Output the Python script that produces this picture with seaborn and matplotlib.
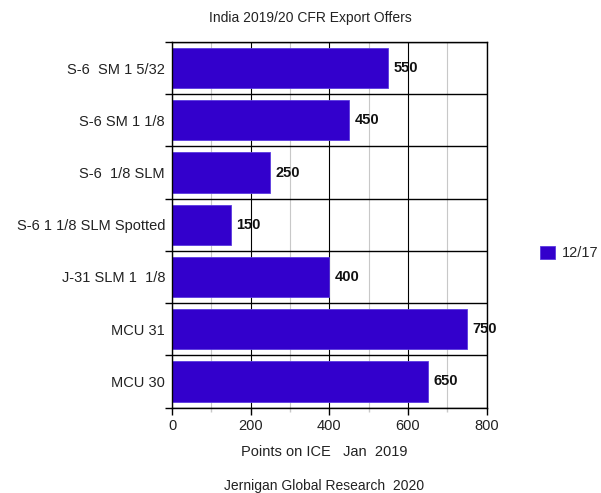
import matplotlib
matplotlib.use("Agg")
import matplotlib.pyplot as plt
import seaborn as sns
import pandas as pd
from matplotlib.ticker import MultipleLocator, FixedLocator
from matplotlib.patches import Patch

categories = ["S-6  SM 1 5/32", "S-6 SM 1 1/8", "S-6  1/8 SLM", "S-6 1 1/8 SLM Spotted",
              "J-31 SLM 1  1/8", "MCU 31", "MCU 30"]
values = [550, 450, 250, 150, 400, 750, 650]
series_name = "12/17"
title = "India 2019/20 CFR Export Offers"
xlabel = "Points on ICE   Jan  2019"
footer = "Jernigan Global Research  2020"

sns.set_theme(style="white")
plt.rcParams['font.family'] = ['Liberation Sans', 'DejaVu Sans']

color = "#3300CC"
df = pd.DataFrame({"cat": categories, "val": values, "series": series_name})

fig = plt.figure(figsize=(6.01, 4.93), dpi=100)
ax = fig.add_axes([0.2862, 0.1734, 0.5233, 0.7414])
sns.barplot(data=df, y="cat", x="val", hue="series", palette=[color], orient="h",
            width=0.77, ax=ax, legend=False, saturation=1,
            edgecolor="#5a3ae0", linewidth=0.6)

ax.set_xlim(0, 800)
ax.set_ylim(len(categories) - 0.5, -0.5)
ax.xaxis.set_major_locator(MultipleLocator(200))
ax.xaxis.set_minor_locator(MultipleLocator(100))
ax.yaxis.set_minor_locator(FixedLocator([i - 0.5 for i in range(len(categories) + 1)]))
ax.grid(which="major", axis="x", color="black", linewidth=0.8)
ax.grid(which="minor", axis="x", color="#c8c8c8", linewidth=0.8)
ax.grid(which="minor", axis="y", color="black", linewidth=1.0)
ax.set_axisbelow(True)
for s in ax.spines.values():
    s.set_color("black")
    s.set_linewidth(1.0)
    s.set_visible(True)

ax.tick_params(axis="y", which="major", length=0, pad=5, labelsize=10.5, labelcolor="#222222")
ax.tick_params(axis="y", which="minor", length=5, width=1, color="black", left=True)
ax.tick_params(axis="x", which="major", length=5, width=1, color="black", bottom=True,
               labelsize=10.5, labelcolor="#222222", pad=3)
ax.tick_params(axis="x", which="minor", length=3, width=1, color="#c8c8c8", bottom=True)
ax.set_ylabel("")
ax.set_xlabel("")

for c in ax.containers:
    ax.bar_label(c, labels=[str(v) for v in values], padding=4, fontsize=10.5,
                 fontweight="bold", color="#111111")

fig.text(310 / 601, 1 - 18 / 493, title, ha="center", va="center", fontsize=10, color="#222222")
fig.text(324 / 601, 1 - 452 / 493, xlabel, ha="center", va="center", fontsize=10.5, color="#222222")
fig.text(324 / 601, 1 - 486 / 493, footer, ha="center", va="center", fontsize=10, color="#222222")

handle = Patch(facecolor=color, edgecolor="#5a3ae0", linewidth=0.6)
fig.legend([handle], [series_name], loc="center left", bbox_to_anchor=(530 / 601, 1 - 253 / 493),
           frameon=False, fontsize=10.5, handlelength=1.0, handleheight=1.0, handletextpad=0.5,
           borderpad=0.2)

fig.savefig("out.png", dpi=100)
